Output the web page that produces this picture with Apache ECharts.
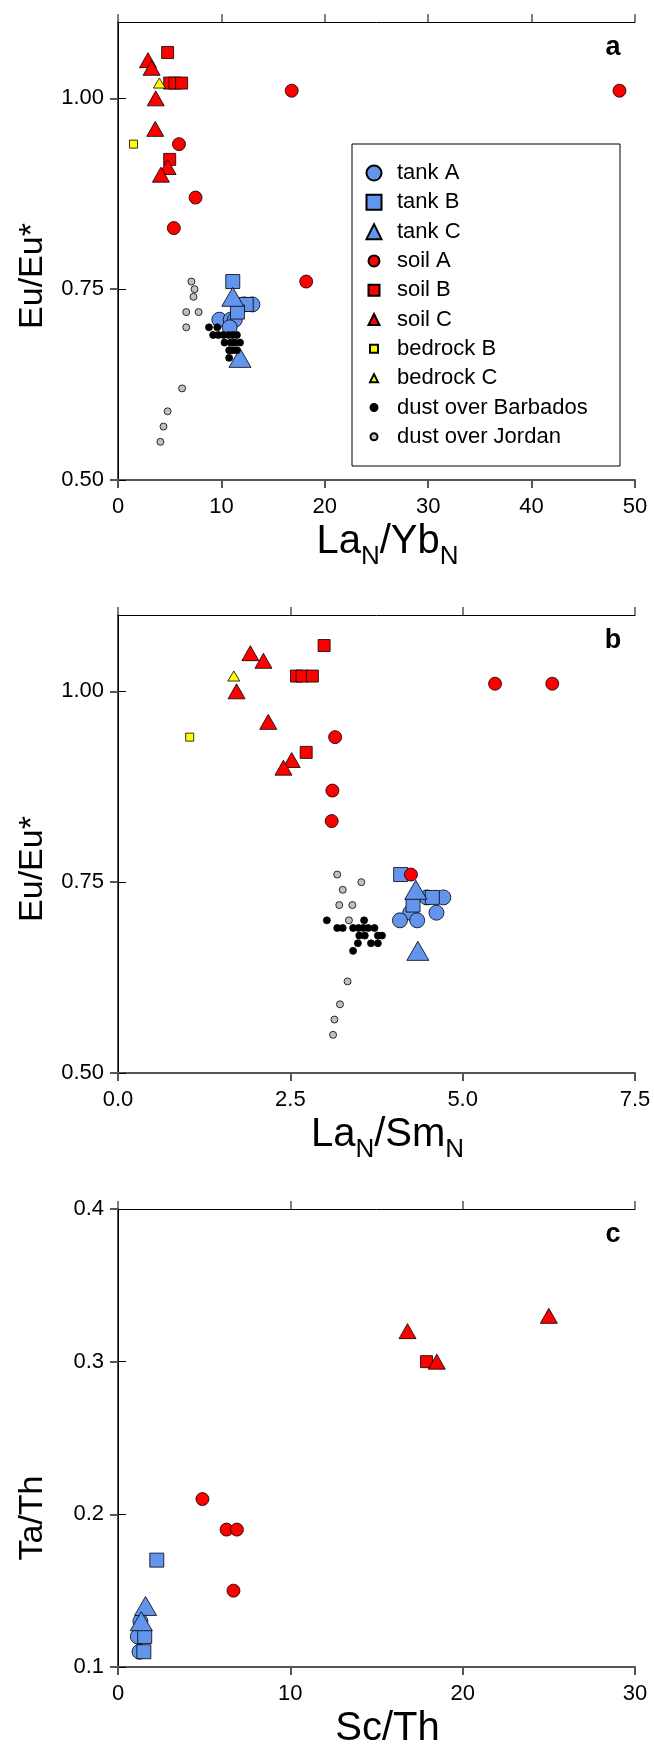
<!DOCTYPE html>
<html>
<head>
<meta charset="utf-8">
<script src="https://cdn.jsdelivr.net/npm/echarts@6/dist/echarts.min.js"></script>
<style>
html,body{margin:0;padding:0;background:#fff}
#main{width:654px;height:1754px}
</style>
</head>
<body>
<div id="main"></div>
<script>
// panel a : LaN/YbN vs Eu/Eu*
var a_tankA = [[13.0,0.73],[12.2,0.73],[9.8,0.71],[10.9,0.71],[11.3,0.71],[10.8,0.70]];
var a_tankB = [[11.1,0.76],[12.4,0.73],[11.55,0.72]];
var a_tankC = [[11.1,0.74],[11.8,0.66]];
var a_soilA = [[16.8,1.01],[48.5,1.01],[5.9,0.94],[7.5,0.87],[5.4,0.83],[18.2,0.76]];
var a_soilB = [[4.8,1.06],[5.0,1.02],[5.5,1.02],[6.15,1.02],[5.0,0.92]];
var a_soilC = [[2.9,1.05],[3.25,1.04],[3.65,1.00],[3.6,0.96],[4.8,0.91],[4.15,0.90]];
var a_bedB = [[1.5,0.94]];
var a_bedC = [[4.0,1.02]];
var a_barb = [[8.8,0.70],[9.6,0.70],[9.2,0.69],[9.7,0.69],[10.2,0.69],[10.7,0.69],[11.1,0.69],[11.5,0.69],
              [10.3,0.68],[10.9,0.68],[11.3,0.68],[11.8,0.68],[10.75,0.67],[11.1,0.67],[11.5,0.67],[10.75,0.66]];
var a_jordan = [[7.1,0.76],[7.4,0.75],[7.3,0.74],[6.6,0.72],[7.8,0.72],[6.6,0.70],[6.2,0.62],[4.8,0.59],[4.4,0.57],[4.1,0.55]];

// panel b : LaN/SmN vs Eu/Eu*
var b_tankA = [[4.72,0.73],[4.48,0.73],[4.62,0.71],[4.24,0.71],[4.09,0.70],[4.34,0.70]];
var b_tankB = [[4.10,0.76],[4.56,0.73],[4.28,0.72]];
var b_tankC = [[4.32,0.74],[4.35,0.66]];
var b_soilA = [[5.47,1.01],[6.30,1.01],[3.15,0.94],[3.11,0.87],[3.10,0.83],[4.25,0.76]];
var b_soilB = [[2.99,1.06],[2.59,1.02],[2.67,1.02],[2.82,1.02],[2.73,0.92]];
var b_soilC = [[1.92,1.05],[2.11,1.04],[1.72,1.00],[2.18,0.96],[2.52,0.91],[2.40,0.90]];
var b_bedB = [[1.04,0.94]];
var b_bedC = [[1.68,1.02]];
var b_barb = [[3.03,0.70],[3.57,0.70],[3.18,0.69],[3.26,0.69],[3.41,0.69],[3.49,0.69],[3.56,0.69],[3.63,0.69],[3.72,0.69],
              [3.50,0.68],[3.58,0.68],[3.77,0.68],[3.83,0.68],[3.48,0.67],[3.67,0.67],[3.77,0.67],[3.41,0.66]];
var b_jordan = [[3.18,0.76],[3.53,0.75],[3.26,0.74],[3.21,0.72],[3.40,0.72],[3.35,0.70],[3.33,0.62],[3.22,0.59],[3.14,0.57],[3.12,0.55]];

// panel c : Sc/Th vs Ta/Th
var c_tankA = [[1.3,0.13],[1.15,0.12],[1.25,0.11]];
var c_tankB = [[2.25,0.17],[1.55,0.12],[1.5,0.11]];
var c_tankC = [[1.6,0.14],[1.35,0.13]];
var c_soilA = [[4.9,0.21],[6.3,0.19],[6.9,0.19],[6.7,0.15]];
var c_soilB = [[17.9,0.30]];
var c_soilC = [[16.8,0.32],[18.5,0.30],[25.0,0.33]];

var legendNames = ['tank A','tank B','tank C','soil A','soil B','soil C','bedrock B','bedrock C','dust over Barbados','dust over Jordan'];
var panelLetters = ['a','b','c'];

var FONT = 'Liberation Sans, Arial, sans-serif';

// marker looks
var look = {
  'tank A': {symbol:'circle', size:15, color:'#6495ED'},
  'tank B': {symbol:'rect', size:14, color:'#6495ED'},
  'tank C': {symbol:'triangle', size:[22,19], color:'#6495ED'},
  'soil A': {symbol:'circle', size:13, color:'#FF0000'},
  'soil B': {symbol:'rect', size:12, color:'#FF0000'},
  'soil C': {symbol:'triangle', size:[17,15], color:'#FF0000'},
  'bedrock B': {symbol:'rect', size:8, color:'#FFFF00'},
  'bedrock C': {symbol:'triangle', size:[12,10], color:'#FFFF00'},
  'dust over Barbados': {symbol:'circle', size:7, color:'#000000'},
  'dust over Jordan': {symbol:'circle', size:7, color:'#C0C0C0'}
};

function sc(name, data, idx) {
  var l = look[name];
  return {
    type: 'scatter', name: name, data: data,
    xAxisIndex: idx, yAxisIndex: idx,
    symbol: l.symbol, symbolSize: l.size,
    itemStyle: {color: l.color, borderColor: '#000', borderWidth: 0.8, opacity: 1},
    emphasis: {disabled: true},
    animation: false
  };
}

var series = [];
var panels = [
  [a_tankA,a_tankB,a_tankC,a_soilA,a_soilB,a_soilC,a_bedB,a_bedC,a_barb,a_jordan],
  [b_tankA,b_tankB,b_tankC,b_soilA,b_soilB,b_soilC,b_bedB,b_bedC,b_barb,b_jordan],
  [c_tankA,c_tankB,c_tankC,c_soilA,c_soilB,c_soilC]
];
for (var p = 0; p < panels.length; p++) {
  for (var i = 0; i < panels[p].length; i++) {
    series.push(sc(legendNames[i], panels[p][i], p));
  }
}

var gridTops = [22, 615, 1209];
var grids = gridTops.map(function (t) {
  return {left: 118, top: t, width: 517, height: 458, containLabel: false, outerBoundsMode: 'none'};
});

var xRanges = [[0,50,10],[0,7.5,2.5],[0,30,10]];
var yRanges = [[0.5,1.1,0.25],[0.5,1.1,0.25],[0.1,0.4,0.1]];
var xDec = [0,1,0];
var yDec = [2,2,1];
var yTicks = [[0.5,0.75,1.0],[0.5,0.75,1.0],[0.1,0.2,0.3,0.4]];
var yNameShift = [50, 50, 160];   // y titles sit a bit below the axis middle

var mainLine = {show: true, lineStyle: {color: '#555', width: 2}};
var frameLine = {show: true, lineStyle: {color: '#000', width: 1}};

var sub = {fontSize: 26, fontFamily: FONT, color: '#000', verticalAlign: 'bottom', lineHeight: 26};
var big = {fontSize: 40, fontFamily: FONT, color: '#000', verticalAlign: 'bottom', lineHeight: 40, padding: [0,0,8,0]};
var xNames = ['{m|La}{s|N}{m|/Yb}{s|N}', '{m|La}{s|N}{m|/Sm}{s|N}', '{m|Sc/Th}'];
var yNames = ['Eu/Eu*', 'Eu/Eu*', 'Ta/Th'];

var xAxes = [], yAxes = [];
for (var g = 0; g < 3; g++) {
  (function (g) {
    xAxes.push({
      type: 'value', gridIndex: g, position: 'bottom',
      min: xRanges[g][0], max: xRanges[g][1], interval: xRanges[g][2],
      name: xNames[g], nameLocation: 'middle', nameGap: 50,
      nameTextStyle: {padding: [0, 0, 0, 22], rich: {m: big, s: sub}},
      axisLine: mainLine,
      axisTick: {show: true, inside: false, length: 8, lineStyle: {color: '#555', width: 2}},
      axisLabel: {show: true, fontSize: 22, fontFamily: FONT, color: '#000', margin: 16,
        formatter: function (v) { return v.toFixed(xDec[g]); }},
      splitLine: {show: false}
    });
    yAxes.push({
      type: 'value', gridIndex: g, position: 'left',
      min: yRanges[g][0], max: yRanges[g][1], interval: yRanges[g][2],
      name: yNames[g], nameLocation: 'middle', nameGap: 68,
      nameTextStyle: {fontSize: 34, fontFamily: FONT, color: '#000', padding: [0, yNameShift[g], 0, 0]},
      axisLine: mainLine,
      axisTick: {show: true, inside: false, length: 8, lineStyle: {color: '#555', width: 2}, customValues: yTicks[g]},
      axisLabel: {show: true, fontSize: 22, fontFamily: FONT, color: '#000', margin: 14,
        customValues: yTicks[g],
        formatter: function (v) { return v.toFixed(yDec[g]); }},
      splitLine: {show: false}
    });
  })(g);
}
for (var g2 = 0; g2 < 3; g2++) {
  xAxes.push({
    type: 'value', gridIndex: g2, position: 'top',
    min: xRanges[g2][0], max: xRanges[g2][1], interval: xRanges[g2][2],
    axisLine: frameLine,
    axisTick: {show: true, inside: false, length: 8, lineStyle: {color: '#555', width: 1.5}},
    axisLabel: {show: false}, splitLine: {show: false}
  });
  yAxes.push({
    type: 'value', gridIndex: g2, position: 'right',
    min: yRanges[g2][0], max: yRanges[g2][1], interval: yRanges[g2][2],
    axisLine: frameLine,
    axisTick: {show: true, inside: false, length: 8, lineStyle: {color: '#000', width: 1}, customValues: yTicks[g2]},
    axisLabel: {show: false}, splitLine: {show: false}
  });
}

// legend: four groups so the icons can have different sizes
var rowH = 29.3, legTop = 158.4, iconX = 373, textX = 396;
function legendGroup(names, startRow, s) {
  return {
    data: names, orient: 'vertical', padding: 0, itemGap: 0,
    left: iconX - s / 2, top: legTop + startRow * rowH,
    itemWidth: s, itemHeight: s, selectedMode: false,
    textStyle: {fontSize: 22, fontFamily: FONT, color: '#000', lineHeight: rowH,
      padding: [0, 0, 0, textX - (iconX + s / 2 + 5)]}
  };
}

var graphics = [{
  type: 'rect', z: 0, silent: true,
  shape: {x: 352, y: 144, width: 268, height: 322},
  style: {fill: 'none', stroke: '#000', lineWidth: 1}
}];
for (var k = 0; k < 3; k++) {
  graphics.push({
    type: 'text', x: 613, y: gridTops[k] + 26, silent: true,
    style: {text: panelLetters[k], font: 'bold 27px ' + FONT, fill: '#000', textAlign: 'center', textVerticalAlign: 'middle'}
  });
}

var myChart = echarts.init(document.getElementById('main'));
myChart.setOption({
  animation: false,
  backgroundColor: '#fff',
  grid: grids,
  xAxis: xAxes,
  yAxis: yAxes,
  legend: [
    legendGroup(legendNames.slice(0, 3), 0, 15),
    legendGroup(legendNames.slice(3, 6), 3, 11),
    legendGroup(legendNames.slice(6, 8), 6, 8),
    legendGroup(legendNames.slice(8, 10), 8, 7)
  ],
  graphic: graphics,
  series: series
});
</script>
</body>
</html>
